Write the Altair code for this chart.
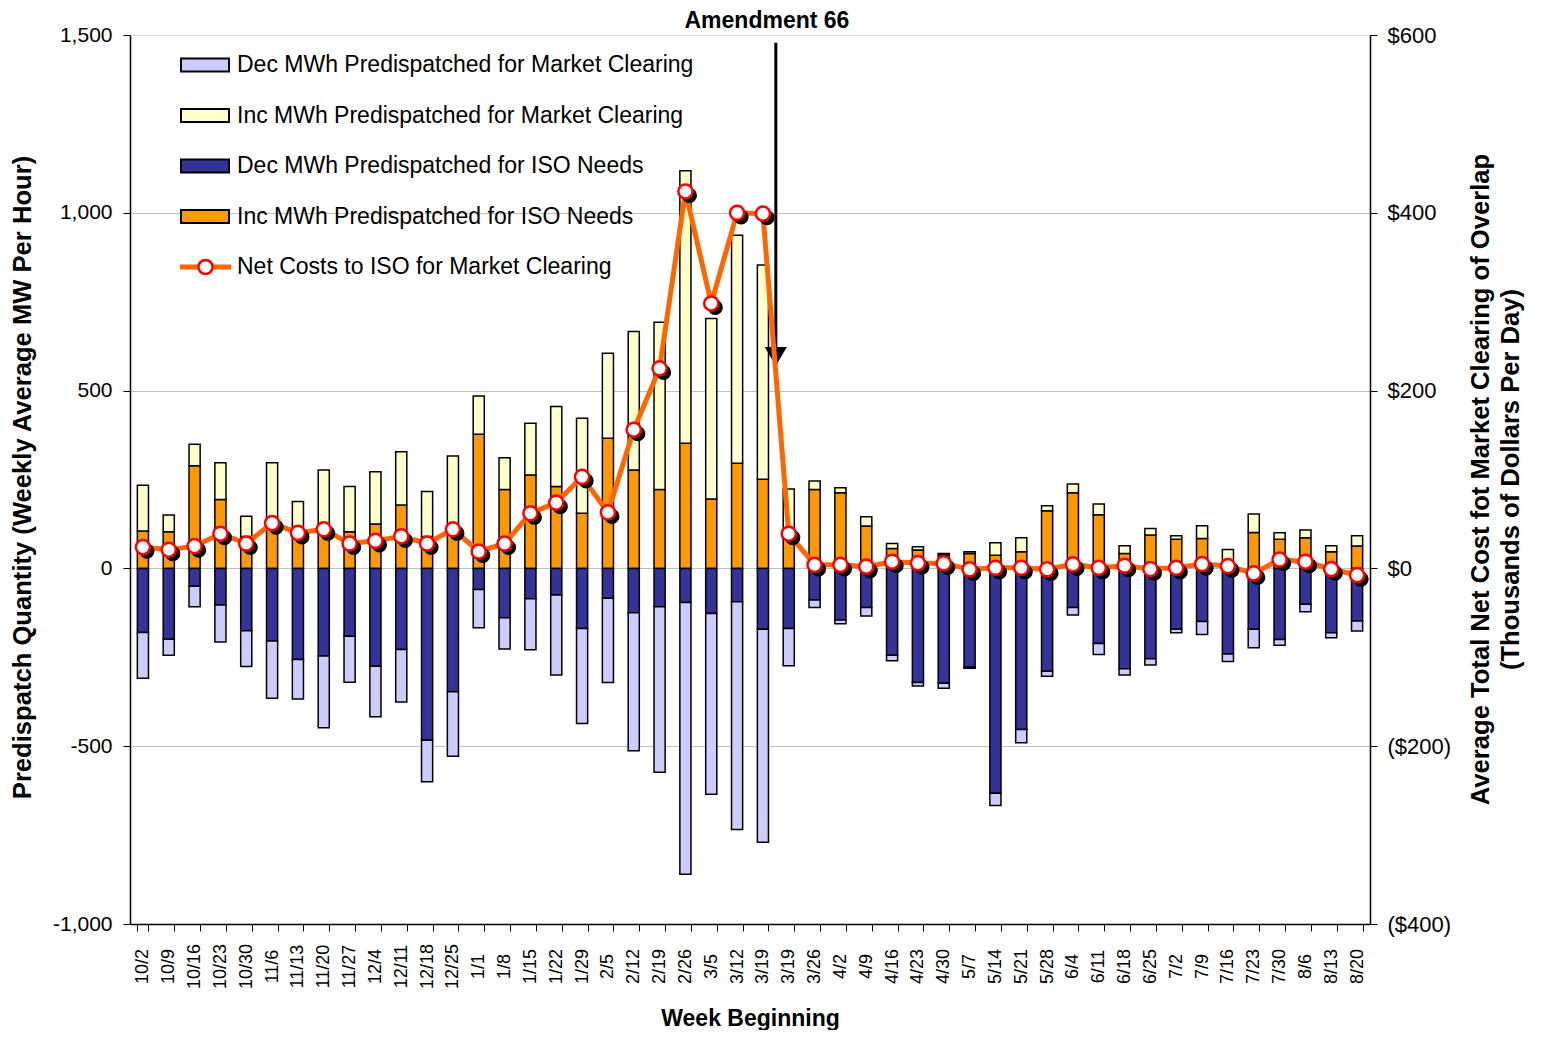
import altair as alt
import pandas as pd

weeks = ["10/2", "10/9", "10/16", "10/23", "10/30", "11/6", "11/13", "11/20", "11/27",
         "12/4", "12/11", "12/18", "12/25", "1/1", "1/8", "1/15", "1/22", "1/29",
         "2/5", "2/12", "2/19", "2/26", "3/5", "3/12", "3/19", "3/19", "3/26", "4/2",
         "4/9", "4/16", "4/23", "4/30", "5/7", "5/14", "5/21", "5/28", "6/4", "6/11",
         "6/18", "6/25", "7/2", "7/9", "7/16", "7/23", "7/30", "8/6", "8/13", "8/20"]

inc_iso = [105, 103, 289, 194, 90, 115, 90, 100, 103, 125, 178, 90, 110, 377, 222, 263,
           230, 155, 366, 277, 222, 352, 195, 296, 251, 100, 222, 213, 119, 56, 52, 38,
           42, 37, 47, 162, 213, 151, 42, 94, 82, 84, 5, 101, 82, 86, 47, 63]
inc_mkt = [129, 47, 60, 103, 57, 182, 98, 177, 127, 147, 150, 126, 206, 108, 89, 145,
           225, 267, 239, 389, 470, 766, 508, 641, 602, 123, 24, 14, 26, 14, 9, 4,
           5, 35, 39, 14, 24, 30, 22, 18, 10, 36, 48, 52, 18, 22, 17, 29]
dec_iso = [-180, -199, -50, -103, -175, -204, -256, -246, -191, -275, -228, -483, -347, -59, -139, -85,
           -75, -169, -84, -125, -108, -96, -127, -94, -171, -169, -89, -145, -110, -244, -321, -323,
           -278, -632, -453, -289, -110, -211, -282, -254, -171, -149, -241, -171, -200, -101, -181, -148]
dec_mkt = [-129, -45, -58, -104, -101, -161, -111, -202, -129, -142, -148, -117, -181, -108, -88, -144,
           -225, -267, -237, -388, -465, -764, -508, -640, -599, -105, -21, -11, -24, -16, -10, -14,
           -3, -35, -37, -14, -21, -31, -18, -18, -10, -37, -21, -52, -16, -21, -14, -28]
net_cost = [24, 21, 25, 39, 28, 51, 40, 44, 28, 31, 36, 28, 44, 19, 28, 62,
            74, 103, 63, 156, 225, 424, 298, 400, 399, 39, 4, 4, 2, 7.5, 6, 5.6,
            -1, 0.7, 0.7, -1, 4.5, 0.7, 3, -0.7, 0.7, 4.9, 2.6, -5.6, 10, 7.5, -0.7, -7.5]

S_DEC_MKT = "Dec MWh Predispatched for Market Clearing"
S_INC_MKT = "Inc MWh Predispatched for Market Clearing"
S_DEC_ISO = "Dec MWh Predispatched for ISO Needs"
S_INC_ISO = "Inc MWh Predispatched for ISO Needs"
S_NET = "Net Costs to ISO for Market Clearing"
series_names = [S_DEC_MKT, S_INC_MKT, S_DEC_ISO, S_INC_ISO]
series_colors = ["#CCCCFF", "#FFFFCC", "#333399", "#FF9900"]

amend_week = "3/19"
amend_label = "Amendment 66"
amend_top = 1478
amend_head = 596
amend_label_y = 1540

FONT = "Liberation Sans"

# unique keys for the categorical axis (duplicate week label)
keys = []
for w in weeks:
    k = w
    while k in keys:
        k += " "
    keys.append(k)

rows = []
for i, k in enumerate(keys):
    rows.append(dict(wk=k, series=S_INC_ISO, y0=0, y1=inc_iso[i]))
    rows.append(dict(wk=k, series=S_INC_MKT, y0=inc_iso[i], y1=inc_iso[i] + inc_mkt[i]))
    rows.append(dict(wk=k, series=S_DEC_ISO, y0=0, y1=dec_iso[i]))
    rows.append(dict(wk=k, series=S_DEC_MKT, y0=dec_iso[i], y1=dec_iso[i] + dec_mkt[i]))
bars_df = pd.DataFrame(rows)
line_df = pd.DataFrame({"wk": keys, "cost": net_cost})
ann_df = pd.DataFrame({"wk": [amend_week], "top": [amend_top], "head": [amend_head],
                       "ly": [amend_label_y], "label": [amend_label]})

x_scale = alt.Scale(domain=keys, paddingInner=0.57, paddingOuter=0.285)
x_axis = alt.Axis(labelAngle=270, labelAlign="center", labelBaseline="middle",
                  labelFontSize=18, labelPadding=35, labelOverlap=False,
                  labelExpr="trim(datum.label)", tickBand="extent", tickSize=7,
                  tickColor="black", domainColor="black", domainWidth=1.5,
                  title="Week Beginning", titleFontSize=23, titleFontWeight="bold",
                  titleX=620, titleY=94, titleBaseline="middle")
X = alt.X("wk:N", scale=x_scale, axis=x_axis)
Xn = alt.X("wk:N", scale=x_scale)

left_scale = alt.Scale(domain=[-1000, 1500], nice=False, zero=False)
left_axis = alt.Axis(values=[-1000, -500, 0, 500, 1000, 1500],
                     labelExpr="datum.value < 0 ? '-' + format(-datum.value, ',') : format(datum.value, ',')",
                     labelFontSize=21, labelPadding=11, tickSize=7, tickColor="black",
                     domainColor="black", domainWidth=1.5, grid=True,
                     gridColor={"condition": {"test": "datum.value >= 1500 || datum.value <= -1000",
                                              "value": "transparent"}, "value": "#C0C0C0"},
                     title="Predispatch Quantity (Weekly Average MW Per Hour)",
                     titleFontSize=25.6, titleFontWeight="bold", titleX=-108, titleY=442,
                     titleBaseline="middle", titleAngle=270)

right_scale = alt.Scale(domain=[-400, 600], nice=False, zero=False)
right_axis = alt.Axis(orient="right", values=[-400, -200, 0, 200, 400, 600],
                      labelExpr="datum.value < 0 ? '($' + format(-datum.value, ',') + ')' : '$' + format(datum.value, ',')",
                      labelFontSize=22, labelPadding=10, tickSize=7, tickColor="black",
                      domainColor="black", domainWidth=1.5, grid=False,
                      title=["Average Total Net Cost fot Market Clearing of Overlap",
                             "(Thousands of Dollars Per Day)"],
                      titleFontSize=25.6, titleFontWeight="bold", titleAngle=270,
                      titleX=110, titleY=444, titleBaseline="middle", titleLineHeight=30)

bars = alt.Chart(bars_df).mark_bar(stroke="black", strokeWidth=1.5).encode(
    x=X,
    y=alt.Y("y0:Q", scale=left_scale, axis=left_axis),
    y2="y1:Q",
    fill=alt.Fill("series:N", scale=alt.Scale(domain=series_names, range=series_colors), legend=None),
)

arrow_rule = alt.Chart(ann_df).mark_rule(color="black", strokeWidth=3, xOffset=12.9).encode(
    x=Xn, y=alt.Y("top:Q", scale=left_scale), y2="head:Q")
arrow_head = alt.Chart(ann_df).mark_point(shape="triangle-down", filled=True, color="black",
                                          opacity=1, size=484, xOffset=12.9).encode(
    x=Xn, y=alt.Y("head:Q", scale=left_scale))
arrow_text = alt.Chart(ann_df).mark_text(font=FONT, fontSize=23, fontWeight="bold",
                                         baseline="middle", align="center", xOffset=4).encode(
    x=Xn, y=alt.Y("ly:Q", scale=left_scale), text="label:N")

one = pd.DataFrame({"n": [0]})
legend_layers = []
row_y0, row_step = 30, 50.5
for i, (name, col) in enumerate(zip(series_names, series_colors)):
    yc = row_y0 + row_step * i
    legend_layers.append(alt.Chart(one).mark_rect(fill=col, stroke="black", strokeWidth=2).encode(
        x=alt.value(51), x2=alt.value(99), y=alt.value(yc - 6.5), y2=alt.value(yc + 6.5)))
    legend_layers.append(alt.Chart(one).mark_text(text=name, font=FONT, fontSize=23, align="left",
                                                  baseline="middle", color="black").encode(
        x=alt.value(107), y=alt.value(yc)))
yc = row_y0 + row_step * 4
legend_layers.append(alt.Chart(one).mark_rule(stroke="#FF6600", strokeWidth=5).encode(
    x=alt.value(50), x2=alt.value(101), y=alt.value(yc)))
legend_layers.append(alt.Chart(one).mark_point(shape="circle", fill="white", stroke="#FF0000",
                                               strokeWidth=2.5, size=200, opacity=1, fillOpacity=1).encode(
    x=alt.value(75.5), y=alt.value(yc)))
legend_layers.append(alt.Chart(one).mark_text(text=S_NET, font=FONT, fontSize=23, align="left",
                                              baseline="middle", color="black").encode(
    x=alt.value(107), y=alt.value(yc)))

left = alt.layer(bars, arrow_rule, arrow_head, arrow_text, *legend_layers)

line = alt.Chart(line_df).mark_line(color="#FF6600", strokeWidth=5).encode(
    x=Xn, y=alt.Y("cost:Q", scale=right_scale, axis=right_axis))
shadow = alt.Chart(line_df).mark_point(shape="circle", filled=True, color="black", opacity=1,
                                       size=230, xOffset=4, yOffset=4).encode(
    x=Xn, y=alt.Y("cost:Q", scale=right_scale))
pts = alt.Chart(line_df).mark_point(shape="circle", fill="white", stroke="#FF0000", strokeWidth=2.5,
                                    size=200, opacity=1, fillOpacity=1).encode(
    x=Xn, y=alt.Y("cost:Q", scale=right_scale))
right = alt.layer(line, shadow, pts)

chart = alt.layer(left, right).resolve_scale(y="independent").properties(
    width=1240, height=889,
    autosize=alt.AutoSizeParams(type="none"),
    padding={"left": 122, "top": 27, "right": 165, "bottom": 106},
).configure_view(stroke=None).configure(font=FONT).configure_axis(
    labelColor="black", titleColor="black", labelFont=FONT, titleFont=FONT)

chart.save("out.html", embed_options={"renderer": "svg", "actions": False})
